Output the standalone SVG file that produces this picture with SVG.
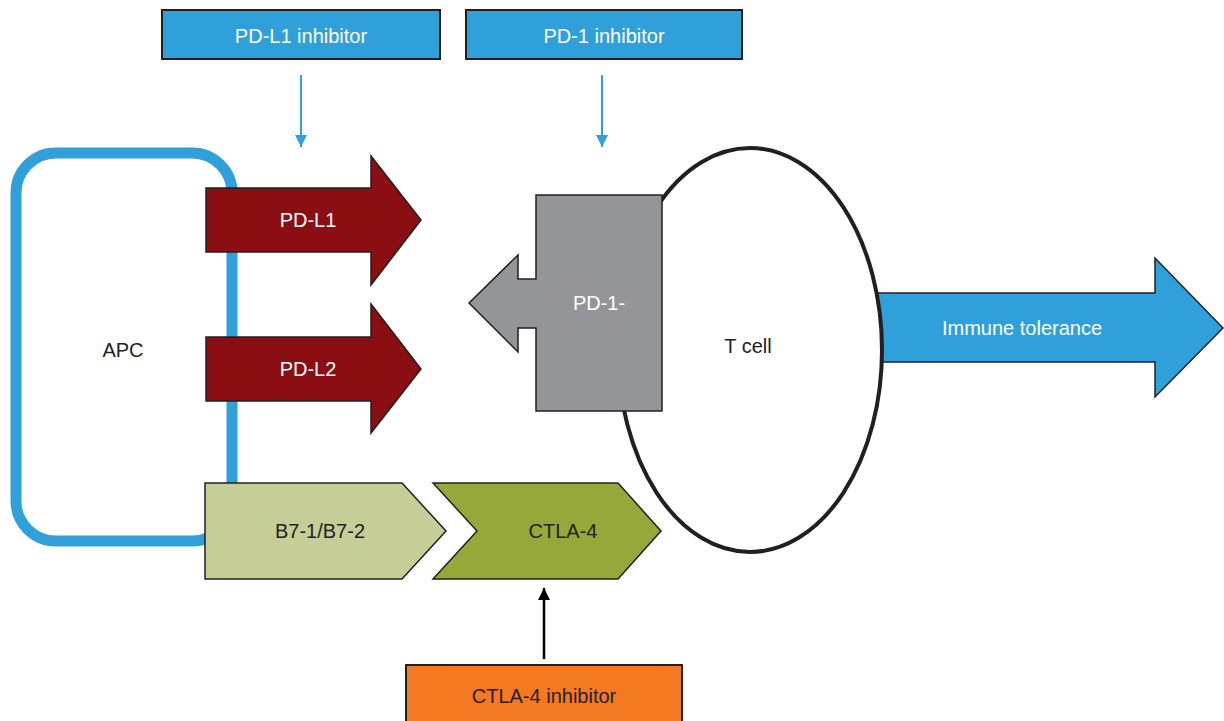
<svg xmlns="http://www.w3.org/2000/svg" width="1224" height="721" viewBox="0 0 1224 721">
<style>
text{font-family:"Liberation Sans",Arial,sans-serif;font-size:20px;text-anchor:middle;dominant-baseline:central}
.w{fill:#ffffff}
.d{fill:#231f20}
.sh{stroke:#231f20;stroke-width:1.5;stroke-linejoin:miter}
.box{stroke:#231f20;stroke-width:2}
</style>
<defs>
<marker id="ab" viewBox="0 0 10 10" refX="10" refY="5" markerWidth="12" markerHeight="18" markerUnits="userSpaceOnUse" orient="auto"><path d="M0,0 L10,5 L0,10 Z" fill="#30a0da"/></marker>
<marker id="ak" viewBox="0 0 10 10" refX="10" refY="5" markerWidth="15" markerHeight="12" markerUnits="userSpaceOnUse" orient="auto"><path d="M0,0 L10,5 L0,10 Z" fill="#000000"/></marker>
</defs>
<rect width="1224" height="721" fill="#ffffff"/>
<g id="apc">
<rect x="16" y="153" width="216" height="388" rx="40" ry="40" fill="none" stroke="#30a0da" stroke-width="11"/>
<text x="123" y="350" class="d">APC</text>
</g>
<g id="immune-tolerance">
<path d="M860,293 H1155 V258 L1223,328 L1155,397 V362 H860 Z" fill="#30a0da" class="sh"/>
<text x="1022" y="328" class="w">Immune tolerance</text>
</g>
<g id="tcell">
<ellipse cx="750" cy="350" rx="132" ry="202" fill="#ffffff" stroke="#231f20" stroke-width="4"/>
<text x="748" y="346" class="d">T cell</text>
</g>
<g id="pdl1-inhibitor">
<rect x="162" y="10" width="278" height="49" fill="#30a0da" class="box"/>
<text x="301" y="36" class="w">PD-L1 inhibitor</text>
</g>
<g id="pd1-inhibitor">
<rect x="466" y="10" width="276" height="49" fill="#30a0da" class="box"/>
<text x="604" y="36" class="w">PD-1 inhibitor</text>
</g>
<g id="pdl1">
<path d="M206,188 H371 V156 L421,220 L371,285 V252 H206 Z" fill="#8b0e12" class="sh"/>
<text x="308" y="220" class="w">PD-L1</text>
</g>
<g id="pdl2">
<path d="M206,337 H371 V304 L421,369 L371,433 V401 H206 Z" fill="#8b0e12" class="sh"/>
<text x="308" y="369" class="w">PD-L2</text>
</g>
<g id="pd1">
<path d="M536,195 H662 V411 H536 V328 H518 V352 L469,303 L518,255 V279 H536 Z" fill="#939598" class="sh"/>
<text x="599" y="303" class="w">PD-1-</text>
</g>
<g id="b7">
<path d="M205,483 H402 L446,531 L402,579 H205 Z" fill="#c6cd96" class="sh"/>
<text x="320" y="531" class="d">B7-1/B7-2</text>
</g>
<g id="ctla4">
<path d="M433,483 H618 L661,531 L618,579 H433 L477,531 Z" fill="#97a83a" class="sh"/>
<text x="563" y="531" class="d">CTLA-4</text>
</g>
<g id="ctla4-inhibitor">
<rect x="406" y="665" width="276" height="70" fill="#f47920" class="box"/>
<text x="544" y="696" class="d">CTLA-4 inhibitor</text>
</g>
<g id="connectors">
<line x1="301" y1="75" x2="301" y2="147" stroke="#30a0da" stroke-width="2" marker-end="url(#ab)"/>
<line x1="602" y1="75" x2="602" y2="147" stroke="#30a0da" stroke-width="2" marker-end="url(#ab)"/>
<line x1="544" y1="659" x2="544" y2="588" stroke="#000000" stroke-width="2.5" marker-end="url(#ak)"/>
</g>
</svg>
